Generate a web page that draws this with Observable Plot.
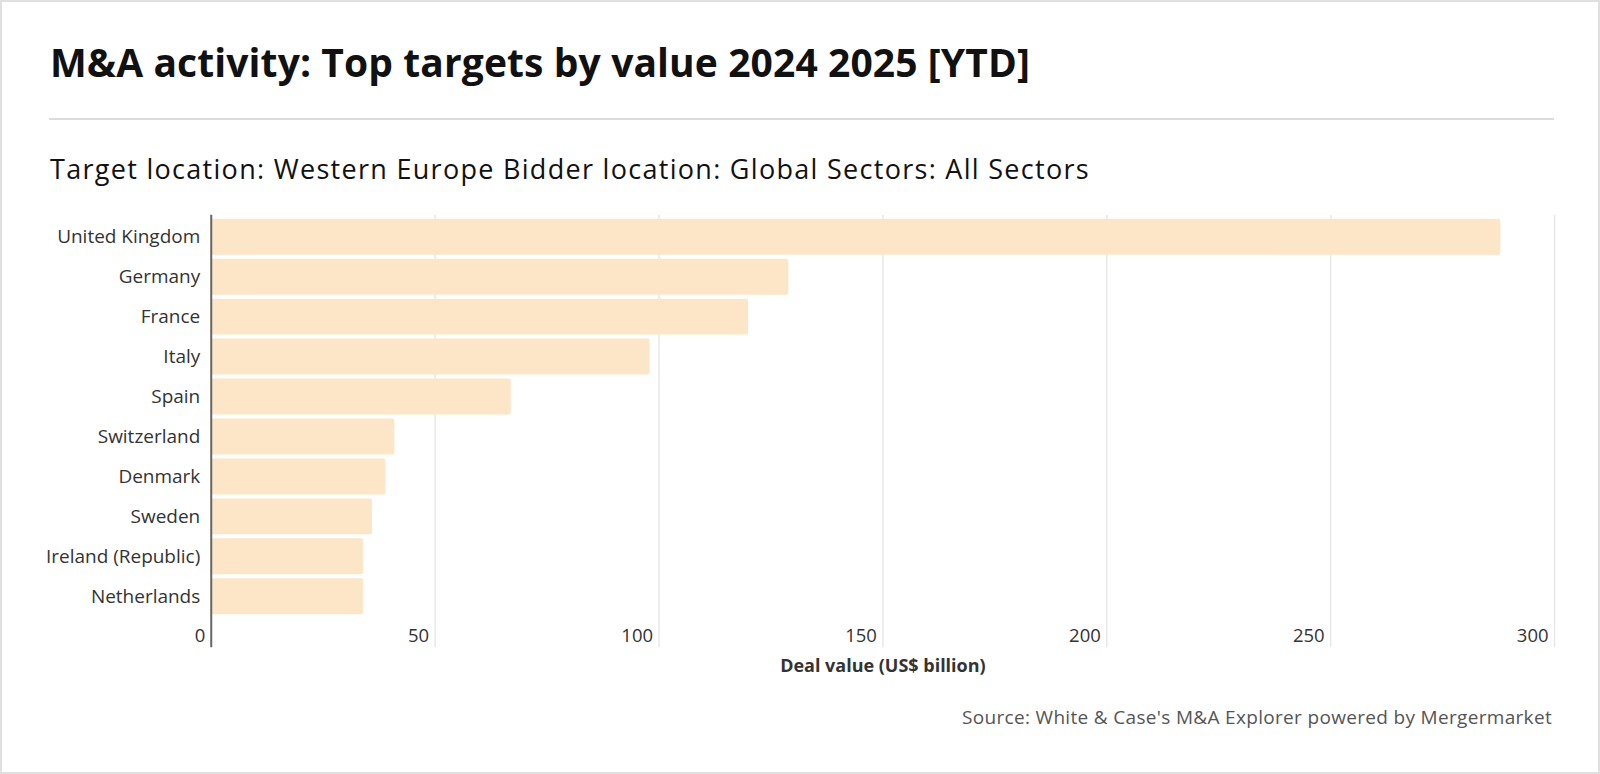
<!DOCTYPE html>
<html>
<head>
<meta charset="utf-8">
<script src="https://cdn.jsdelivr.net/npm/d3@7"></script>
<script src="https://cdn.jsdelivr.net/npm/@observablehq/plot@0.6"></script>
<style>
  html, body { margin: 0; padding: 0; background: #fff; }
  #card { position: relative; width: 1600px; height: 774px; box-sizing: border-box; border: 2px solid #e0e0e0; background: #fff; overflow: hidden; font-family: "Open Sans", Lato, sans-serif; }
  .abs { position: absolute; white-space: nowrap; line-height: 1; margin: 0; }
  #title { left: 48px; top: 40px; font-size: 39px; font-weight: 700; color: #111; }
  #rule { position: absolute; left: 47px; right: 44px; top: 116px; height: 0; border-top: 2px solid #dcdcdc; }
  #subtitle { left: 48px; top: 153px; font-size: 27px; color: #111; }
  #chart { position: absolute; left: -2px; top: -2px; }
  #source { right: 46px; top: 706px; font-size: 19px; color: #555; }
</style>
</head>
<body>
<div id="card">
  <div id="title" class="abs">M&amp;A activity: Top targets by value 2024 2025 [YTD]</div>
  <div id="rule"></div>
  <div id="subtitle" class="abs">Target location: Western Europe Bidder location: Global Sectors: All Sectors</div>
  <div id="chart"></div>
  <div id="source" class="abs">Source: White &amp; Case's M&amp;A Explorer powered by Mergermarket</div>
</div>
<script>
const countries = ["United Kingdom", "Germany", "France", "Italy", "Spain", "Switzerland", "Denmark", "Sweden", "Ireland (Republic)", "Netherlands"];
const values = [288, 129, 120, 98, 67, 41, 39, 36, 34, 34];
const xTicks = [0, 50, 100, 150, 200, 250, 300];
const xLabel = "Deal value (US$ billion)";

const data = countries.map((c, i) => ({country: c, value: values[i]}));

const chart = Plot.plot({
  width: 1600,
  height: 774,
  marginTop: 215,
  marginBottom: 126,
  marginLeft: 211,
  marginRight: 44,
  insetBottom: 29,
  style: {fontFamily: "'Open Sans', Lato, sans-serif", color: "#333", background: "transparent"},
  x: {domain: [0, 300]},
  y: {domain: countries, padding: 0.1, label: null},
  marks: [
    Plot.gridX(xTicks.filter(d => d > 0), {stroke: "#e8e8e8", strokeOpacity: 1, strokeWidth: 1.5}),
    Plot.barX(data, {x: "value", y: "country", fill: "#fde6c8", rx: 2}),
    Plot.ruleX([0], {stroke: "#666", strokeWidth: 2}),
    Plot.axisY({tickSize: 0, tickPadding: 11, fontSize: 19, label: null, fill: "#333"}),
    Plot.axisX({ticks: xTicks, tickSize: 0, tickPadding: 0, dy: -19, dx: -6, textAnchor: "end", fontSize: 18.5, label: null, fill: "#333"}),
    Plot.text([xLabel], {frameAnchor: "bottom", lineAnchor: "top", dy: 12, fontSize: 18, fontWeight: 700, fill: "#333", text: d => d})
  ]
});
document.getElementById("chart").appendChild(chart);

// fit HTML text widths to the reference layout
function fit(id, target) {
  const el = document.getElementById(id);
  el.style.letterSpacing = "0px";
  const w = el.getBoundingClientRect().width;
  const n = el.textContent.length;
  el.style.letterSpacing = ((target - w) / n).toFixed(3) + "px";
}
function fitAll() {
  fit("title", 980);
  fit("subtitle", 1040);
  fit("source", 590);
}
fitAll();
if (document.fonts && document.fonts.ready) document.fonts.ready.then(fitAll);
</script>
</body>
</html>
